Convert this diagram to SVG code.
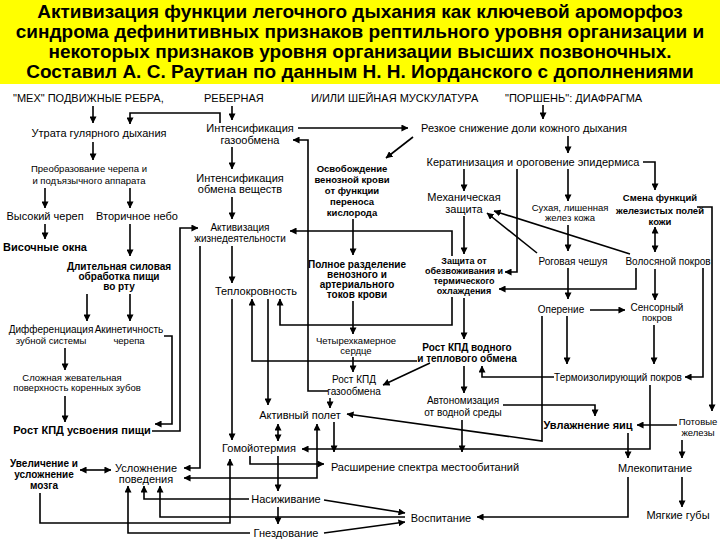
<svg xmlns="http://www.w3.org/2000/svg" width="720" height="540" viewBox="0 0 720 540">
<defs>
<marker id="ah" viewBox="0 0 8 8" markerWidth="7" markerHeight="7" refX="7.5" refY="4" orient="auto-start-reverse" markerUnits="userSpaceOnUse">
<path d="M0,0 L8,4 L0,8 z" fill="#000"/>
</marker>
<style>
text{font-family:"Liberation Sans","DejaVu Sans",sans-serif;fill:#000;text-anchor:middle}
.title{font-size:19px;font-weight:bold}
.hd{font-size:11px;text-anchor:start}
.n{font-size:11px}
.nb{font-size:11px;font-weight:bold}
.m{font-size:10px}
.mb{font-size:10px;font-weight:bold}
.s{font-size:9.5px}
.sb{font-size:9.5px;font-weight:bold}
.xs{font-size:9px;font-weight:bold}
.c path{fill:none;stroke:#000;stroke-width:1.6;marker-end:url(#ah)}
.c path.bi{marker-start:url(#ah)}
</style>
</defs>
<rect x="0" y="0" width="720" height="84" fill="#ffff00"/>
<g id="title">
<text class="title" x="360" y="18">Активизация функции легочного дыхания как ключевой ароморфоз</text>
<text class="title" x="360" y="38">синдрома дефинитивных признаков рептильного уровня организации и</text>
<text class="title" x="360" y="58">некоторых признаков уровня организации высших позвоночных.</text>
<text class="title" x="360" y="78">Составил А. С. Раутиан по данным Н. Н. Иорданского с дополнениями</text>
</g>
<g id="headers">
<text class="hd" x="13" y="102">"МЕХ" ПОДВИЖНЫЕ РЕБРА,</text>
<text class="hd" x="204" y="102">РЕБЕРНАЯ</text>
<text class="hd" x="311" y="102">И/ИЛИ ШЕЙНАЯ МУСКУЛАТУРА</text>
<text class="hd" x="505" y="102">"ПОРШЕНЬ": ДИАФРАГМА</text>
</g>
<g id="n_utrata"><text class="n" x="99" y="137">Утрата гулярного дыхания</text></g>
<g id="n_gazoobmen"><text class="n" x="250" y="132">Интенсификация</text><text class="n" x="250" y="144">газообмена</text></g>
<g id="n_rezkoe"><text class="n" x="524" y="132">Резкое снижение доли кожного дыхания</text></g>
<g id="n_preobr"><text class="s" x="89" y="172">Преобразование черепа и</text><text class="s" x="89" y="184">и подъязычного аппарата</text></g>
<g id="n_obmen"><text class="n" x="240" y="182">Интенсификация</text><text class="n" x="240" y="193">обмена веществ</text></g>
<g id="n_osvob"><text class="sb" x="352" y="172">Освобождение</text><text class="sb" x="352" y="183">венозной крови</text><text class="sb" x="352" y="194">от функции</text><text class="sb" x="352" y="205">переноса</text><text class="sb" x="352" y="216">кислорода</text></g>
<g id="n_kerat"><text class="n" x="533" y="166">Кератинизация и ороговение эпидермиса</text></g>
<g id="n_mech"><text class="n" x="464" y="201">Механическая</text><text class="n" x="464" y="213">защита</text></g>
<g id="n_suhaya"><text class="s" x="570" y="211">Сухая, лишенная</text><text class="s" x="570" y="221">желез кожа</text></g>
<g id="n_smena"><text class="sb" x="660" y="201">Смена функций</text><text class="sb" x="660" y="214">железистых полей</text><text class="sb" x="660" y="225">кожи</text></g>
<g id="n_vysokiy"><text class="n" x="45" y="220">Высокий череп</text></g>
<g id="n_vtorich"><text class="n" x="137" y="220">Вторичное небо</text></g>
<g id="n_aktiv"><text class="m" x="240" y="231">Активизация</text><text class="m" x="240" y="242">жизнедеятельности</text></g>
<g id="n_visoch"><text class="nb" x="45" y="251">Височные окна</text></g>
<g id="n_dlit"><text class="mb" x="119" y="270">Длительная силовая</text><text class="mb" x="119" y="280">обработка пищи</text><text class="mb" x="119" y="290">во рту</text></g>
<g id="n_polnoe"><text class="mb" x="357" y="268">Полное разделение</text><text class="mb" x="357" y="278">венозного и</text><text class="mb" x="357" y="288">артериального</text><text class="mb" x="357" y="298">токов крови</text></g>
<g id="n_zashita"><text class="xs" x="464" y="264">Защита от</text><text class="xs" x="464" y="274">обезвоживания и</text><text class="xs" x="464" y="284">термического</text><text class="xs" x="464" y="294">охлаждения</text></g>
<g id="n_rogovaya"><text class="m" x="573" y="265">Роговая чешуя</text></g>
<g id="n_volos"><text class="m" x="668" y="265">Волосяной покров</text></g>
<g id="n_teplo"><text class="n" x="256" y="295">Теплокровность</text></g>
<g id="n_operenie"><text class="m" x="561" y="313">Оперение</text></g>
<g id="n_sensor"><text class="m" x="657" y="311">Сенсорный</text><text class="s" x="657" y="321">покров</text></g>
<g id="n_diff"><text class="m" x="51" y="333">Дифференциация</text><text class="s" x="51" y="344">зубной системы</text></g>
<g id="n_akinet"><text class="m" x="129" y="333">Акинетичность</text><text class="s" x="129" y="344">черепа</text></g>
<g id="n_chetyr"><text class="s" x="356" y="344">Четырехкамерное</text><text class="s" x="356" y="354">сердце</text></g>
<g id="n_rostvod"><text class="mb" x="467" y="351">Рост КПД водного</text><text class="mb" x="467" y="362">и теплового обмена</text></g>
<g id="n_slozhn"><text class="s" x="72" y="381">Сложная жевательная</text><text class="s" x="77" y="391">поверхность коренных зубов</text></g>
<g id="n_rostgaz"><text class="m" x="354" y="383">Рост КПД</text><text class="m" x="354" y="395">газообмена</text></g>
<g id="n_termo"><text class="m" x="618" y="381">Термоизолирующий покров</text></g>
<g id="n_avtonom"><text class="m" x="463" y="404">Автономизация</text><text class="m" x="463" y="416">от водной среды</text></g>
<g id="n_aktpolet"><text class="n" x="300" y="419">Активный полет</text></g>
<g id="n_rostusv"><text class="nb" x="82" y="434">Рост КПД усвоения пищи</text></g>
<g id="n_uvlazh"><text class="nb" x="588" y="429">Увлажнение яиц</text></g>
<g id="n_potov"><text class="s" x="698" y="425">Потовые</text><text class="s" x="698" y="436">железы</text></g>
<g id="n_gomoy"><text class="n" x="259" y="452">Гомойотермия</text></g>
<g id="n_mozg"><text class="mb" x="44" y="467">Увеличение и</text><text class="mb" x="44" y="478">усложнение</text><text class="mb" x="44" y="489">мозга</text></g>
<g id="n_uslozh"><text class="n" x="146" y="472">Усложнение</text><text class="n" x="146" y="483">поведения</text></g>
<g id="n_rasshir"><text class="n" x="425" y="471">Расширение спектра местообитаний</text></g>
<g id="n_mleko"><text class="n" x="655" y="472">Млекопитание</text></g>
<g id="n_nasizh"><text class="n" x="286" y="503">Насиживание</text></g>
<g id="n_vospit"><text class="n" x="441" y="522">Воспитание</text></g>
<g id="n_gnezdo"><text class="n" x="286" y="537">Гнездование</text></g>
<g id="n_myagkie"><text class="n" x="678" y="519">Мягкие губы</text></g>
<g id="connectors" class="c">
<path d="M93,106 V123"/>
<path d="M220,123 V113 H130 V124"/>
<path d="M232,106 V120"/>
<path d="M298,128 H408"/>
<path d="M543,105 V119"/>
<path d="M413,137 L386,158"/>
<path d="M568,136 V153"/>
<path d="M328,391 H308 V140 H293"/>
<path d="M232,147 V169"/>
<path d="M232,197 V219"/>
<path d="M93,142 V160"/>
<path d="M45,188 V208"/>
<path d="M130,188 V208"/>
<path d="M45,224 V239"/>
<path d="M130,224 V256"/>
<path d="M87,294 V321"/>
<path d="M130,294 V321"/>
<path d="M65,348 V370"/>
<path d="M65,396 V422"/>
<path d="M164,336 H172 V424 H155"/>
<path d="M152,431 H180 V228 H198"/>
<path d="M200,246 V468 H184"/>
<path d="M232,246 V283"/>
<path d="M232,299 V440"/>
<path d="M417,361 H252 V299"/>
<path d="M268,299 V405"/>
<path d="M452,297 V325 H280 V299"/>
<path d="M452,256 V231 H290"/>
<path d="M353,219 V255"/>
<path d="M464,216 V254"/>
<path d="M464,169 V191"/>
<path d="M517,169 V272 H505"/>
<path d="M568,169 V201"/>
<path d="M643,162 H655 V190"/>
<path d="M568,225 V251"/>
<path d="M537,253 L487,213"/>
<path d="M630,254 L494,211"/>
<path class="bi" d="M655,227 V252"/>
<path d="M636,268 V289 H499"/>
<path d="M655,269 V300"/>
<path d="M568,268 V299"/>
<path d="M590,310 H625"/>
<path d="M567,316 V364"/>
<path d="M654,325 V364"/>
<path d="M703,268 V377 H685"/>
<path d="M697,207 H712 V411"/>
<path d="M554,377 H482 V366"/>
<path d="M353,301 V334"/>
<path d="M353,357 V372"/>
<path d="M430,363 L383,385"/>
<path d="M330,398 V408"/>
<path d="M464,366 V393"/>
<path d="M464,298 V339"/>
<path d="M503,405 H595 V416"/>
<path d="M677,425 H637"/>
<path d="M542,316 V441 L347,414"/>
<path d="M650,385 V449 H302"/>
<path d="M628,433 V458"/>
<path d="M682,440 V458"/>
<path d="M682,477 V507"/>
<path d="M628,477 V517 H477"/>
<path d="M462,420 V452"/>
<path class="bi" d="M278,424 V441"/>
<path class="bi" d="M317,424 V478 H184"/>
<path d="M334,422 V452"/>
<path d="M250,456 V464 H324"/>
<path d="M278,456 V491"/>
<path d="M278,507 V524"/>
<path d="M324,500 L405,513"/>
<path d="M324,533 L405,522"/>
<path d="M405,517 H160 V486"/>
<path d="M249,499 H144 V486"/>
<path d="M250,533 H128 V486"/>
<path class="bi" d="M80,470 H111"/>
<path d="M40,493 V523 H230 V459"/>
</g>
</svg>
